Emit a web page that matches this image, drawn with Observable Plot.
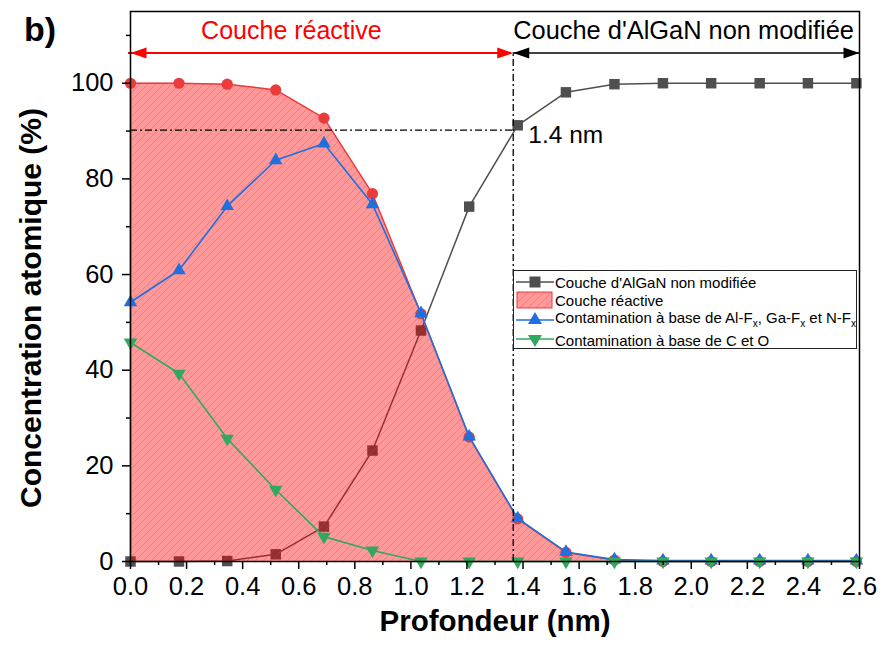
<!DOCTYPE html>
<html>
<head>
<meta charset="utf-8">
<script src="https://cdn.jsdelivr.net/npm/d3@7"></script>
<script src="https://cdn.jsdelivr.net/npm/@observablehq/plot@0.6"></script>
<style>
  body { margin: 0; background: #fff; }
  #wrap { position: relative; width: 881px; height: 646px; font-family: "Liberation Sans", Arial, sans-serif; }
  #tag { position: absolute; left: 24px; top: 10px; font-size: 34px; font-weight: bold; }
  #ylab { position: absolute; left: 31px; top: 308px; transform: translate(-50%, -50%) rotate(-90deg); white-space: nowrap; font-size: 30px; font-weight: bold; }
  #legend { position: absolute; left: 513px; top: 270px; width: 344px; height: 79px; border: 1px solid #222; background: #fff; box-sizing: border-box; font-size: 15px; }
  #legend .row { position: absolute; left: 0; height: 20px; display: flex; align-items: center; }
  #legend svg { width: 40px; height: 20px; flex: none; }
  #legend sub { font-size: 10px; }
</style>
</head>
<body>
<div id="wrap">
  <div id="chart"></div>
  <div id="tag">b)</div>
  <div id="ylab">Concentration atomique (%)</div>
  <div id="legend"></div>
</div>
<script>
// ---- data ----
const depth = [0, 0.173, 0.345, 0.518, 0.690, 0.863, 1.036, 1.208, 1.381, 1.553, 1.726, 1.899, 2.071, 2.244, 2.416, 2.589];
const algan = [0, 0, 0.1, 1.5, 7.3, 23.2, 48.3, 74.2, 91.2, 98.1, 99.8, 100, 100, 100, 100, 100];
const reactive = [100, 100, 99.8, 98.6, 92.7, 76.9, 51.8, 26.0, 8.9, 1.9, 0.3, 0, 0, 0, 0, 0];
const fluor = [54.2, 60.9, 74.3, 83.9, 87.4, 74.7, 51.9, 26.1, 9.0, 2.0, 0.4, 0.2, 0.2, 0.2, 0.2, 0.2];
const carbon = [45.8, 39.3, 25.7, 15.0, 5.2, 2.3, 0, 0, 0, 0, 0, 0, 0, 0, 0, 0];
const xMajor = [0, 0.2, 0.4, 0.6, 0.8, 1.0, 1.2, 1.4, 1.6, 1.8, 2.0, 2.2, 2.4, 2.6];
const xMinor = [0.1, 0.3, 0.5, 0.7, 0.9, 1.1, 1.3, 1.5, 1.7, 1.9, 2.1, 2.3, 2.5];
const yMajor = [0, 20, 40, 60, 80, 100];
const yMinor = [10, 30, 50, 70, 90, 110];
const boundary = 1.365;   // limit between the two layers (nm)
const level = 90.2;       // 90 % level
const arrowY = 106.3;
const labelTexts = ["Couche réactive", "Couche d'AlGaN non modifiée", "1.4 nm"];

const cGray = "#4f4f4f", cRed = "#ec3b3b", cBlue = "#1f6fde", cGreen = "#32a85e";

const rows = depth.map((d, i) => ({d, algan: algan[i], reactive: reactive[i], fluor: fluor[i], carbon: carbon[i]}));

// narrow filled arrowhead pointing right, tip at origin
const head = {draw(ctx) { ctx.moveTo(0, 0); ctx.lineTo(-16, -5.5); ctx.lineTo(-16, 5.5); ctx.closePath(); }};

const defs = () => {
  const g = d3.create("svg:defs");
  const p = g.append("pattern").attr("id", "hatch").attr("patternUnits", "userSpaceOnUse")
    .attr("width", 8).attr("height", 8);
  p.append("path").attr("d", "M-2,2 L2,-2 M0,8 L8,0 M6,10 L10,6")
    .attr("stroke", "rgba(110,110,110,0.4)").attr("stroke-width", 0.8);
  return g.node();
};

const dash = "7,3,2,3";

const chart = Plot.plot({
  width: 881, height: 646,
  marginLeft: 130, marginRight: 22, marginTop: 11, marginBottom: 85,
  style: {fontFamily: "Liberation Sans, Arial, sans-serif", fontSize: "25.5px", color: "#000", background: "transparent"},
  x: {domain: [0, 2.6]},
  y: {domain: [0, 115]},
  marks: [
    defs,
    // unmodified AlGaN layer (drawn under the reactive fill)
    Plot.line(rows, {x: "d", y: "algan", stroke: cGray, strokeWidth: 1.5}),
    Plot.dot(rows, {x: "d", y: "algan", symbol: "square", r: 5.9, fill: cGray}),
    // reactive layer area
    Plot.areaY(rows, {x: "d", y: "reactive", fill: "red", fillOpacity: 0.4}),
    Plot.areaY(rows, {x: "d", y: "reactive", fill: "url(#hatch)"}),
    Plot.ruleX([0], {y1: 0, y2: 100, stroke: cRed, strokeWidth: 1.5}),
    Plot.line(rows, {x: "d", y: "reactive", stroke: cRed, strokeWidth: 1.5}),
    Plot.dot(rows, {x: "d", y: "reactive", r: 5.6, fill: cRed}),
    // F contamination
    Plot.line(rows, {x: "d", y: "fluor", stroke: cBlue, strokeWidth: 1.6}),
    Plot.dot(rows, {x: "d", y: "fluor", symbol: "triangle", r: 5, fill: cBlue}),
    // C and O contamination
    Plot.line(rows, {x: "d", y: "carbon", stroke: cGreen, strokeWidth: 1.6}),
    Plot.dot(rows, {x: "d", y: "carbon", symbol: "triangle", rotate: 180, r: 5, fill: cGreen}),
    // dash-dot guides
    Plot.ruleY([level], {x1: 0, x2: boundary, stroke: "#000", strokeWidth: 1.3, strokeDasharray: dash}),
    Plot.ruleX([boundary], {y1: 0, y2: arrowY, stroke: "#000", strokeWidth: 1.3, strokeDasharray: dash}),
    // top arrows
    Plot.ruleY([arrowY], {x1: 0, x2: boundary, stroke: "red", strokeWidth: 2, dx: -2}),
    Plot.ruleY([arrowY], {x1: boundary, x2: 2.6, stroke: "#000", strokeWidth: 1.5}),
    Plot.dot([{x: 0, r: 180, c: "red", dx: -4}, {x: boundary, r: 0, c: "red", dx: -2},
              {x: boundary, r: 180, c: "#000", dx: 0}, {x: 2.6, r: 0, c: "#000", dx: 0}],
      {x: "x", y: () => arrowY, symbol: head, rotate: "r", fill: "c", stroke: "none"}),
    Plot.text([labelTexts[0]], {x: 0.574, y: 110.9, fill: "red", fontSize: 25, textAnchor: "middle"}),
    Plot.text([labelTexts[1]], {x: boundary, y: 110.9, dx: 0, fill: "#000", fontSize: 25.4, textAnchor: "start"}),
    Plot.text([labelTexts[2]], {x: 1.419, y: 89.1, fill: "#000", fontSize: 24.5, textAnchor: "start"}),
    // axes
    Plot.axisX({ticks: xMajor, tickSize: 8, tickPadding: 7, tickFormat: d3.format(".1f"), label: null, strokeWidth: 1.5}),
    Plot.axisX({ticks: xMinor, tickSize: 4, tickFormat: null, text: null, label: null, strokeWidth: 1.5}),
    Plot.axisY({ticks: yMajor, tickSize: 8, tickPadding: 9, label: null, strokeWidth: 1.5}),
    Plot.axisY({ticks: yMinor, tickSize: 4, text: null, label: null, strokeWidth: 1.5}),
    Plot.frame({stroke: "#000", strokeWidth: 1.5}),
    Plot.text(["Profondeur (nm)"], {frameAnchor: "bottom", dy: 69, fontSize: 29.5, fontWeight: "bold"})
  ]
});
document.getElementById("chart").appendChild(chart);

// ---- legend ----
const legendItems = [
  {label: "Couche d'AlGaN non modifiée", kind: "square", color: cGray, top: 1},
  {label: "Couche réactive", kind: "area", color: cRed, top: 19},
  {label: "Contamination à base de Al-F<sub>x</sub>, Ga-F<sub>x</sub> et N-F<sub>x</sub>", kind: "up", color: cBlue, top: 38},
  {label: "Contamination à base de C et O", kind: "down", color: cGreen, top: 59}
];
const leg = document.getElementById("legend");
for (const it of legendItems) {
  let sym = "";
  if (it.kind === "square") sym = `<line x1="2" x2="40" y1="10" y2="10" stroke="${it.color}" stroke-width="1.5"/><rect x="15.5" y="4.5" width="11" height="11" fill="${it.color}"/>`;
  if (it.kind === "area") sym = `<defs><pattern id="lh" patternUnits="userSpaceOnUse" width="8" height="8"><path d="M-2,2 L2,-2 M0,8 L8,0 M6,10 L10,6" stroke="rgba(110,110,110,0.4)" stroke-width="0.8"/></pattern></defs><rect x="3" y="2" width="35" height="16" fill="rgba(255,0,0,0.4)" stroke="${it.color}" stroke-width="1"/><rect x="3" y="2" width="35" height="16" fill="url(#lh)"/>`;
  if (it.kind === "up") sym = `<line x1="2" x2="40" y1="11" y2="11" stroke="${it.color}" stroke-width="1.6"/><path d="M21,3 L28,15 L14,15 Z" fill="${it.color}"/>`;
  if (it.kind === "down") sym = `<line x1="2" x2="40" y1="9" y2="9" stroke="${it.color}" stroke-width="1.6"/><path d="M21,17 L28,5 L14,5 Z" fill="${it.color}"/>`;
  const row = document.createElement("div");
  row.className = "row";
  row.style.top = it.top + "px";
  row.innerHTML = `<svg viewBox="0 0 40 20">${sym}</svg><span style="margin-left:1px">${it.label}</span>`;
  leg.appendChild(row);
}
</script>
</body>
</html>
